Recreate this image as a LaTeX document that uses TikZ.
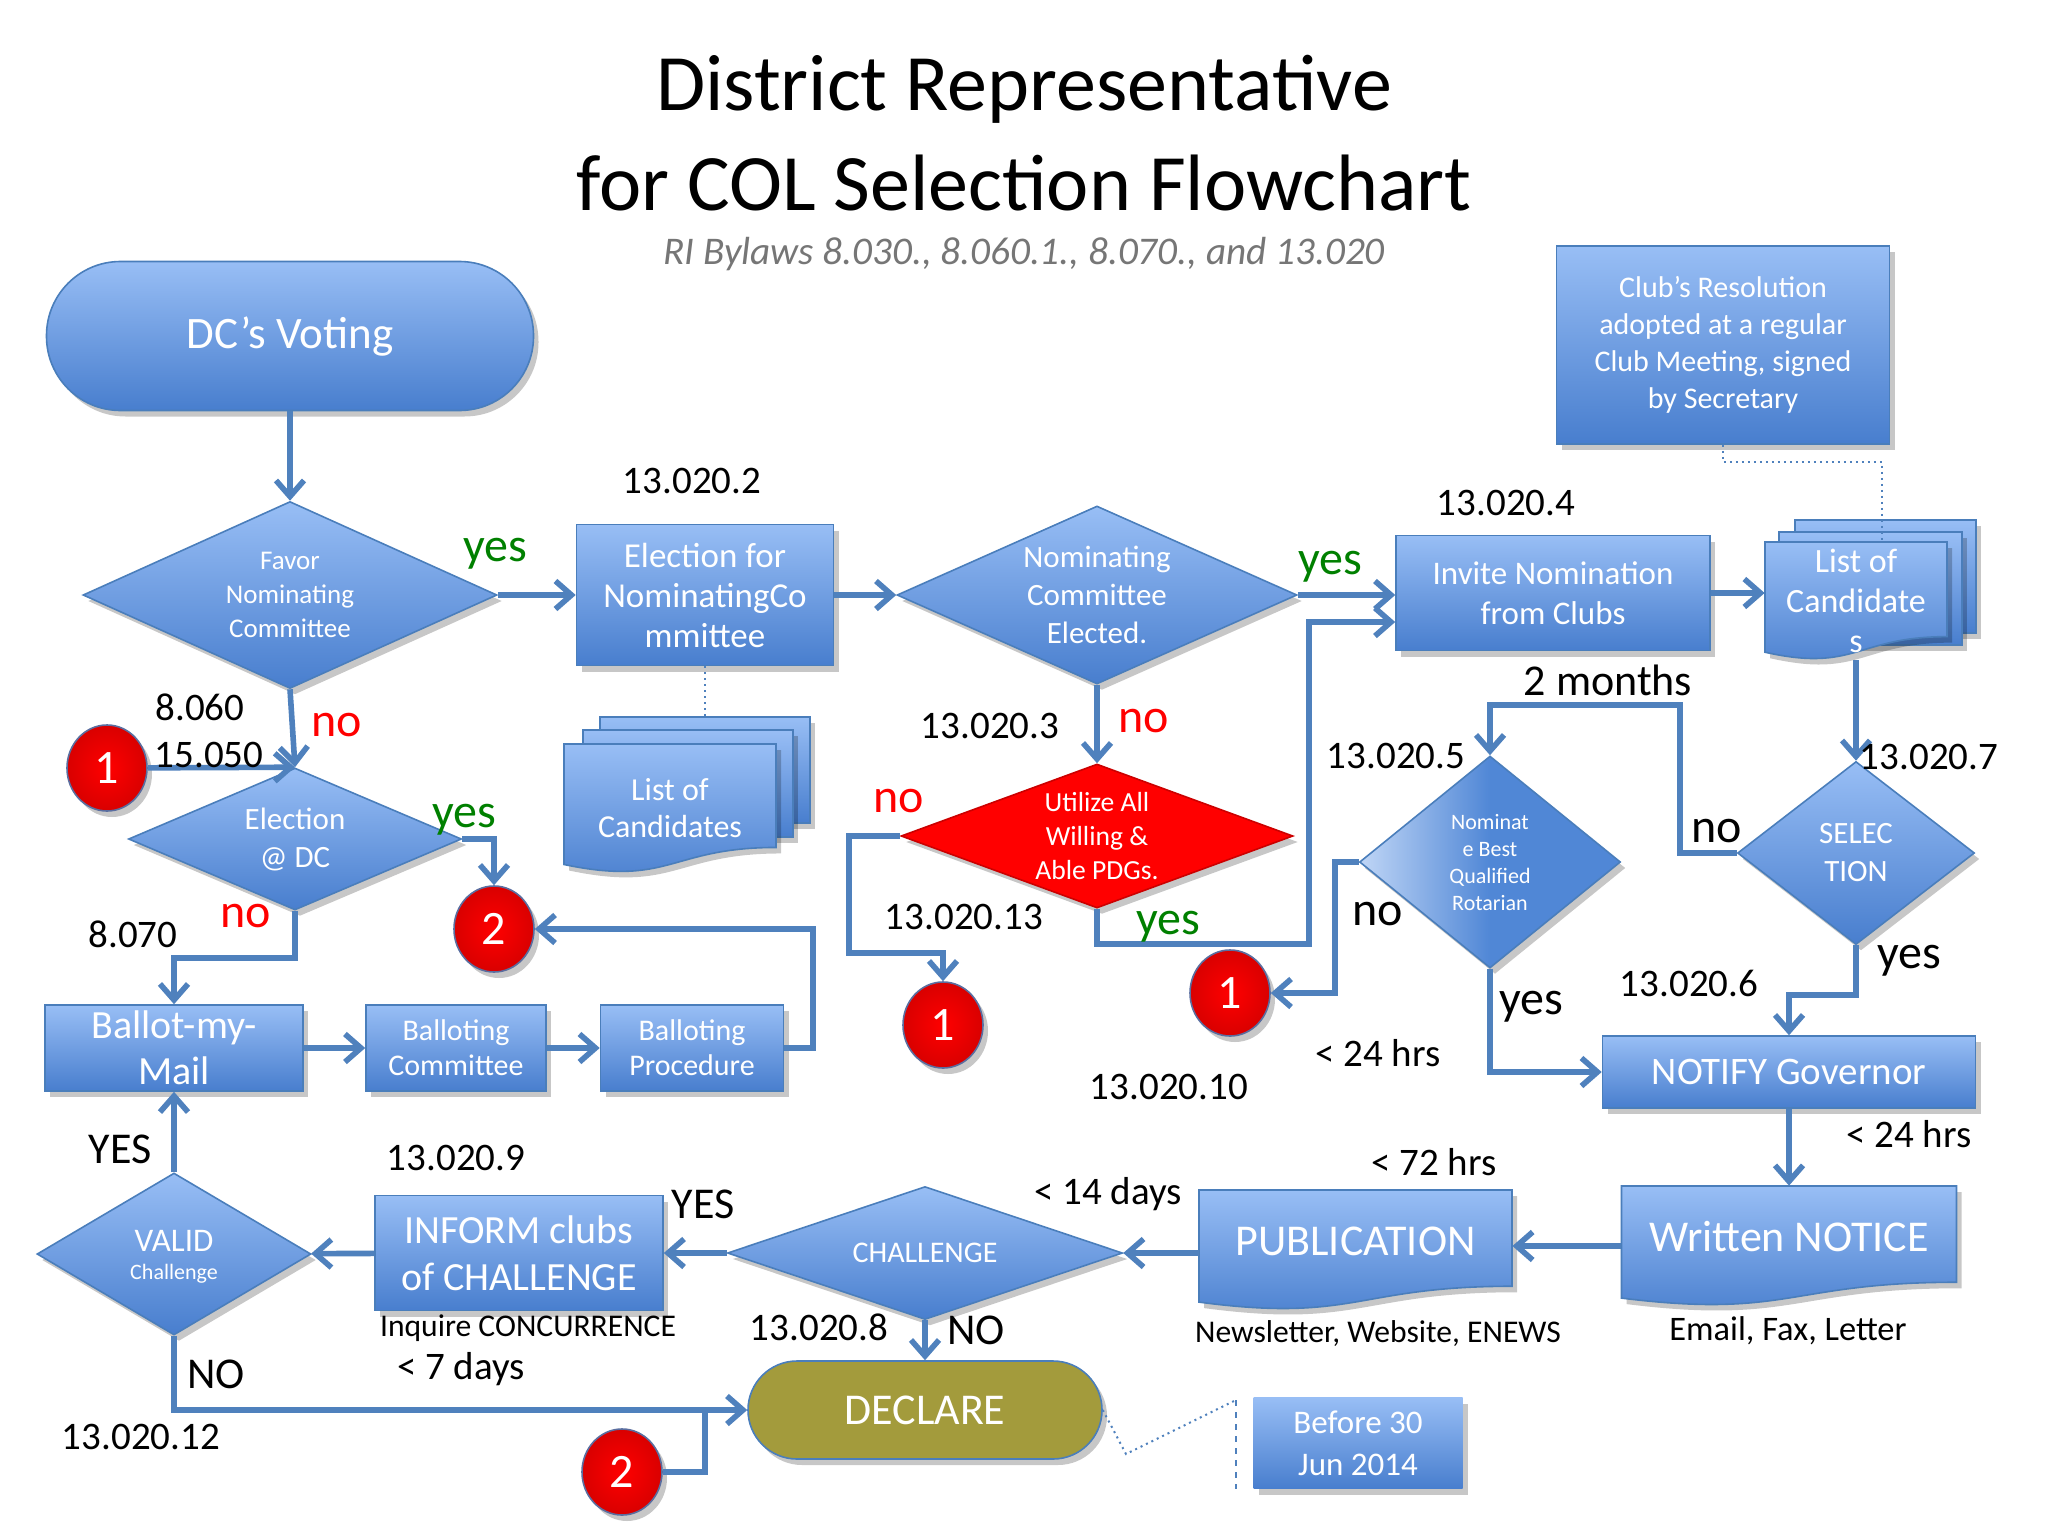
\documentclass[tikz,border=0pt]{standalone}
\usepackage{fontspec}
\setmainfont{Carlito}
\usetikzlibrary{arrows.meta,shapes.geometric,shadows,calc}
\definecolor{boxtop}{RGB}{152,190,245}
\definecolor{boxbot}{RGB}{72,126,206}
\definecolor{boxedge}{RGB}{74,126,187}
\definecolor{conncol}{RGB}{79,129,189}
\definecolor{declcol}{RGB}{163,155,60}
\definecolor{greentxt}{RGB}{0,128,0}
\definecolor{subgray}{RGB}{118,118,118}
\definecolor{nomlight}{RGB}{192,214,246}
\definecolor{nomdark}{RGB}{80,135,214}
\definecolor{circedge}{RGB}{90,110,160}
\newcommand\fsz[2]{\fontsize{#1}{#2}\selectfont}
\newcommand\docpath[4]{({#1-#3/2},{#2-#4/2}) -- ({#1+#3/2},{#2-#4/2}) -- ({#1+#3/2},{#2-#4/2+0.802*#4}) .. controls ({#1},{#2-#4/2+0.802*#4}) and ({#1},{#2-#4/2+1.1075*#4}) .. ({#1-#3/2},{#2-#4/2+0.934*#4}) -- cycle}
\tikzset{
  shad/.style={drop shadow={shadow xshift=2.5pt,shadow yshift=-3pt,opacity=0.22,fill=black}},
  box/.style={rectangle, top color=boxtop, bottom color=boxbot, draw=boxedge, line width=0.8pt, text=white, align=center, inner sep=0pt, shad},
  diabase/.style={diamond, draw=boxedge, line width=0.8pt, inner sep=0pt, shad},
  dia/.style={diabase, top color=boxtop, bottom color=boxbot},
  dtext/.style={text=white, align=center, inner sep=0pt},
  docsty/.style={top color=boxtop, bottom color=boxbot, draw=boxedge, line width=0.8pt, shad},
  docnode/.style={rectangle, inner sep=0pt},
  circ/.style={ellipse, minimum width=40pt, minimum height=43pt, inner sep=0pt, inner color=red, outer color=red!85!black, draw=circedge, line width=0.8pt, text=white, font=\fsz{24}{28}, shad},
  conn/.style={draw=conncol, line width=2.8pt, -{Straight Barb[length=8pt,width=14pt]}},
  connplain/.style={draw=conncol, line width=2.8pt},
  dotline/.style={draw=conncol, line width=1pt, dotted},
  lab/.style={text=black, font=\fsz{19.5}{22}, inner sep=0pt},
  ylab/.style={text=greentxt, font=\fsz{24}{28}, inner sep=0pt, yshift=-4pt},
  nlab/.style={text=red, font=\fsz{24}{28}, inner sep=0pt, yshift=-2pt},
  bnlab/.style={text=black, font=\fsz{24}{28}, inner sep=0pt, yshift=-2pt},
  bylab/.style={text=black, font=\fsz{24}{28}, inner sep=0pt, yshift=-4pt},
}
\begin{document}
\begin{tikzpicture}[x=0.5pt,y=-0.5pt]
\fill[white] (0,0) rectangle (2048,1536);
\useasboundingbox (0,0) rectangle (2048,1536);

% title
\node[font=\fsz{40}{47}] (t1) at (1024,89) {District Representative};
\node[font=\fsz{40}{47}] (t2) at (1024,183) {for COL Selection Flowchart};
\node[font=\fsz{19.6}{22}\itshape, text=subgray] (sub) at (1024,254) {RI Bylaws 8.030., 8.060.1., 8.070., and 13.020};

% shapes
\node[box, rounded corners=37pt, minimum width=243.5pt, minimum height=74.5pt, font=\fsz{22.5}{26}] (dcv) at (290,336) {DC’s Voting};
\node[dia, minimum width=207pt, minimum height=93.5pt, label={[dtext,font=\fsz{13.5}{17}]center:Favor\\Nominating\\Committee}] (favor) at (290,595) {};
\node[box, minimum width=128.5pt, minimum height=70.5pt, font=\fsz{17.5}{20}] (elec) at (705,595) {Election for\\NominatingCo\\mmittee};

\path[docsty] (600,717) rectangle (810,823);
\path[docsty] (583,730) rectangle (793,837);
\path[docsty] \docpath{670}{808.5}{212}{129};
\node[docnode, minimum width=106pt, minimum height=64.5pt, label={[dtext,font=\fsz{16}{18.5}]center:List of\\Candidates}] (list1) at (670,808.5) {};

\node[dia, minimum width=200pt, minimum height=89pt, label={[dtext,font=\fsz{15.5}{19}]center:Nominating\\Committee\\Elected.}] (nce) at (1097,595) {};
\node[diabase, fill=red, draw=red!80!black, minimum width=196pt, minimum height=72pt, label={[dtext,font=\fsz{13.8}{17}]center:Utilize All\\Willing \&\\Able PDGs.}] (util) at (1097,836) {};
\node[box, minimum width=157pt, minimum height=57.5pt, font=\fsz{16.5}{20}] (invite) at (1553,593) {Invite Nomination\\from Clubs};

\path[docsty] (1795,520) rectangle (1976,633);
\path[docsty] (1779,532) rectangle (1962,645);
\path[docsty] \docpath{1856}{601}{182}{118};
\node[docnode, minimum width=91pt, minimum height=59pt, label={[dtext,font=\fsz{17}{20}]center:List of\\Candidate\\s}] (list2) at (1856,601) {};

\node[box, minimum width=166.5pt, minimum height=99pt, font=\fsz{15}{18.5}] (club) at (1723,345) {Club’s Resolution\\adopted at a regular\\Club Meeting, signed\\by Secretary};
\node[dia, minimum width=118.5pt, minimum height=91.5pt, label={[dtext,font=\fsz{15.5}{19}]center:SELEC\\TION}] (sel) at (1856,853) {};
\node[diabase, left color=nomlight, right color=nomdark, middle color=nomdark, minimum width=130.5pt, minimum height=106pt, label={[dtext,font=\fsz{11}{13.5}]center:Nominat\\e Best\\Qualified\\Rotarian}] (nom) at (1490,862) {};

\node[circ] (c1a) at (107,768) {1};
\node[circ] (c2a) at (494,929) {2};
\node[circ] (c1b) at (943,1025) {1};
\node[circ] (c1c) at (1230,993) {1};
\node[circ] (c2b) at (622,1472) {2};

\node[dia, minimum width=166.5pt, minimum height=71pt, label={[dtext,font=\fsz{15.5}{19}]center:Election\\@ DC}] (eldc) at (295,839) {};
\node[box, minimum width=129pt, minimum height=43pt, font=\fsz{20}{23}] (bmm) at (174,1048) {Ballot-my-\\Mail};
\node[box, minimum width=90pt, minimum height=43pt, font=\fsz{15}{17.5}] (bcom) at (456,1048) {Balloting\\Committee};
\node[box, minimum width=91.5pt, minimum height=43pt, font=\fsz{15}{17.5}] (bproc) at (692,1048) {Balloting\\Procedure};

\node[box, minimum width=186.5pt, minimum height=36pt, font=\fsz{19.5}{22}] (notify) at (1789,1072) {NOTIFY Governor};
\path[docsty] \docpath{1789}{1246}{335}{120};
\node[docnode, minimum width=167.5pt, minimum height=60pt, label={[dtext,font=\fsz{22}{26},yshift=4.5pt]center:Written NOTICE}] (wn) at (1789,1246) {};
\path[docsty] \docpath{1355.5}{1250}{313}{120};
\node[docnode, minimum width=156.5pt, minimum height=60pt, label={[dtext,font=\fsz{22}{26},yshift=4.5pt]center:PUBLICATION}] (pub) at (1355.5,1250) {};

\node[dia, minimum width=197.5pt, minimum height=66.5pt, label={[dtext,font=\fsz{15}{18}]center:CHALLENGE}] (chal) at (925,1253) {};
\node[box, minimum width=144pt, minimum height=57.5pt, font=\fsz{20}{23.5}] (inform) at (519,1253) {INFORM clubs\\of CHALLENGE};
\node[dia, minimum width=137pt, minimum height=81pt, label={[dtext,font=\fsz{16.5}{20},yshift=6.5pt]center:VALID}, label={[dtext,font=\fsz{11}{14},yshift=-10pt]center:Challenge}] (valid) at (174,1254) {};

\node[rectangle, rounded corners=24.5pt, fill=declcol, draw=boxedge, line width=0.8pt, text=white, shad, minimum width=177pt, minimum height=49pt, font=\fsz{22}{26}] (decl) at (925,1410) {DECLARE};
\node[box, draw=none, minimum width=104.5pt, minimum height=45.5pt, font=\fsz{16.5}{21}] (before) at (1358,1443) {Before 30\\Jun 2014};

% connectors
\draw[conn] (dcv) -- (favor);
\draw[conn] (favor) -- (elec);
\draw[conn] (elec) -- (nce);
\draw[conn] (nce.east) -- (nce.east -| invite.west);
\draw[conn] (invite.east) -- (invite.east -| list2.west);
\draw[conn] (list2.south) -- (sel.north);
\draw[conn] (sel.west) -| (1680,705) -| (nom.north);
\draw[conn] (sel.south) -- (1856,995) -| (notify.north);
\draw[conn] (nom.south) |- (notify.west);
\draw[conn] (nom.west) -| (1335,993) -- (c1c.east);
\draw[conn] (nce) -- (util);
\draw[conn] (util.south) |- (1309,944) |- (invite.west |- 0,622);
\draw[conn] (util.west) -| (849,953) -| (c1b.north);
\draw[conn] (favor.south) -- (eldc.north);
\draw[conn] (c1a) -- (eldc.north);
\draw[conn] (eldc.east) -| (c2a.north);
\draw[conn] (eldc.south) -- (295,958) -| (bmm.north);
\draw[conn] (bmm) -- (bcom);
\draw[conn] (bcom) -- (bproc);
\draw[conn] (bproc.east) -| (813,929) -- (c2a.east);
\draw[conn] (notify) -- (wn.north);
\draw[conn] (wn.west) -- (wn.west -| pub.east);
\draw[conn] (pub.west |- chal.east) -- (chal.east);
\draw[conn] (chal) -- (inform);
\draw[conn] (inform) -- (valid);
\draw[conn] (valid) -- (bmm);
\draw[conn] (valid.south) |- (decl.west);
\draw[connplain] (c2b.east) -| (705,1410);
\draw[conn] (chal) -- (decl);

% dotted links
\draw[dotline] (elec.south) -- (705,717);
\draw[dotline] (club.south) -- (1723,462) -| (1882,540);
\draw[dotline] (decl.east) -- (1126,1454) -- (1236,1400);
\draw[draw=conncol, line width=0.8pt, dashed] (1236,1400) -- (1236,1489);

% labels
\node[lab] (l1) at (692,481) {13.020.2};
\node[ylab] (l2) at (495,546) {yes};
\node[lab] (l3) at (200,707) {8.060};
\node[nlab] (l4) at (337,721) {no};
\node[lab] (l5) at (209,755) {15.050};
\node[ylab] (l6) at (464,812) {yes};
\node[nlab] (l7) at (246,912) {no};
\node[lab] (l8) at (133,934) {8.070};
\node[lab] (l9) at (990,726) {13.020.3};
\node[nlab] (l10) at (1144,717) {no};
\node[nlab] (l11) at (899,797) {no};
\node[lab] (l12) at (964,917) {13.020.13};
\node[ylab] (l13) at (1168,919) {yes};
\node[ylab] (l14) at (1330,559) {yes};
\node[lab] (l15) at (1506,503) {13.020.4};
\node[lab, font=\fsz{22}{26}] (l16) at (1608,680) {2 months};
\node[lab] (l17) at (1396,756) {13.020.5};
\node[lab] (l18) at (1929,757) {13.020.7};
\node[bnlab] (l19) at (1717,827) {no};
\node[bnlab] (l20) at (1378,910) {no};
\node[bylab] (l21) at (1909,953) {yes};
\node[bylab] (l22) at (1531,999) {yes};
\node[lab] (l23) at (1689,983) {13.020.6};
\node[lab] (l24) at (1378,1053) {< 24 hrs};
\node[lab] (l25) at (1169,1087) {13.020.10};
\node[lab] (l26) at (1909,1134) {< 24 hrs};
\node[lab] (l27) at (1434,1162) {< 72 hrs};
\node[lab] (l28) at (1108,1194) {< 14 days};
\node[lab, font=\fsz{22}{26}] (l29) at (703,1204) {YES};
\node[lab] (l30) at (456,1158) {13.020.9};
\node[lab, font=\fsz{22}{26}] (l31) at (120,1149) {YES};
\node[lab, font=\fsz{15.8}{18}] (l32) at (528,1328) {Inquire CONCURRENCE};
\node[lab] (l33) at (461,1369) {< 7 days};
\node[lab, font=\fsz{22}{26}] (l34) at (216,1374) {NO};
\node[lab] (l35) at (141,1437) {13.020.12};
\node[lab] (l36) at (819,1327) {13.020.8};
\node[lab, font=\fsz{22}{26}] (l37) at (976,1330) {NO};
\node[lab, font=\fsz{15.8}{18}] (l38) at (1378,1334) {Newsletter, Website, ENEWS};
\node[lab, font=\fsz{17.2}{20}] (l39) at (1788,1331) {Email, Fax, Letter};
\end{tikzpicture}
\end{document}
